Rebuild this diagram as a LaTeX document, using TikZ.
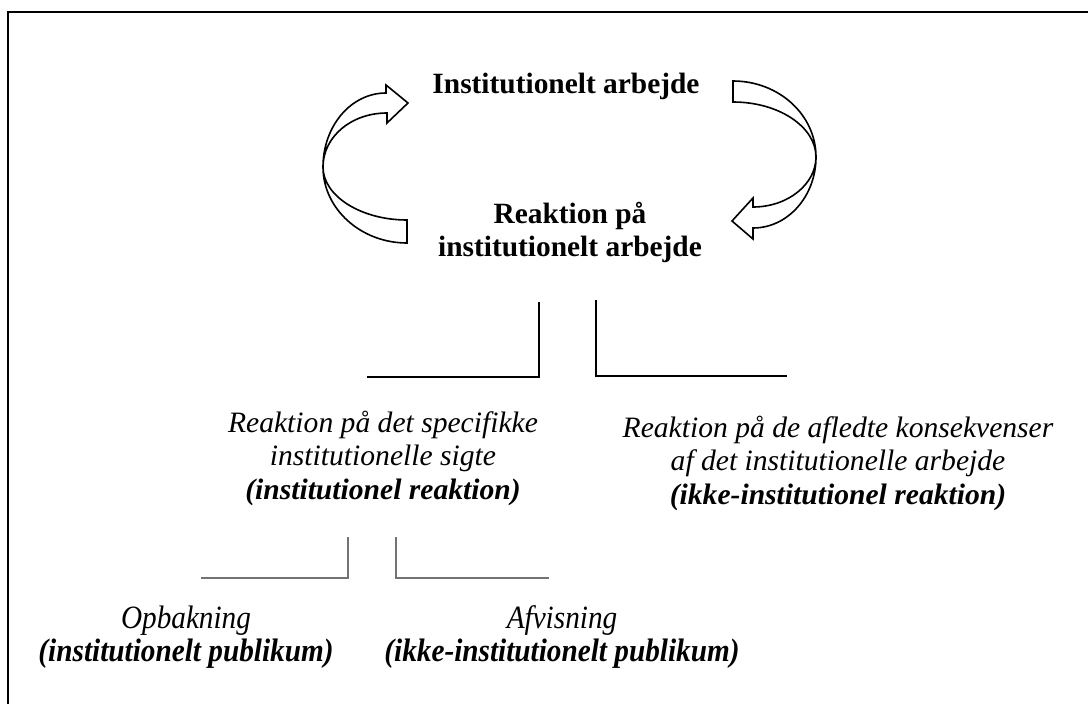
\documentclass[tikz,border=0pt]{standalone}
\usepackage{fontspec}
\setmainfont{Liberation Serif}
\newfontfamily\narrowserif[FakeStretch=0.9]{Liberation Serif}
\begin{document}
\begin{tikzpicture}[x=1pt,y=-1pt,
  boldlabel/.style={font=\fontsize{29.4}{33}\selectfont\bfseries, align=center, inner sep=0pt},
  itlabel/.style={font=\fontsize{29.6}{33.5}\selectfont\itshape, align=center, inner sep=0pt},
  narrowlabel/.style={font=\narrowserif\fontsize{32.5}{33}\selectfont\itshape, align=center, inner sep=0pt},
  blackline/.style={draw=black, line width=2pt},
  grayline/.style={draw=black!55, line width=2pt},
  ribbon/.style={draw=black, fill=white, line width=1.6pt, line join=miter}]
\useasboundingbox (0,0) rectangle (1088,704);
\fill[white] (0,0) rectangle (1088,704);
\draw[line width=2.6pt] (8,12) rectangle (1110,730);

% texts
\node[boldlabel] (top) at (566,86) {Institutionelt arbejde};
\node[boldlabel] (react) at (570,232) {Reaktion på\\institutionelt arbejde};
\node[itlabel] (spec) at (383,458) {Reaktion på det specifikke\\institutionelle sigte\\\textbf{(institutionel reaktion)}};
\node[itlabel] (afl) at (838,463) {Reaktion på de afledte konsekvenser\\af det institutionelle arbejde\\\textbf{(ikke-institutionel reaktion)}};
\node[narrowlabel] (opb) at (186,637) {Opbakning\\\textbf{(institutionelt publikum)}};
\node[narrowlabel] (afv) at (562,637) {Afvisning\\\textbf{(ikke-institutionelt publikum)}};

% left curved arrow
\draw[ribbon] (407,243) .. controls (361,243) and (323,209) .. (323,167)
  .. controls (323,126) and (351,93) .. (386,93)
  -- (386,85) -- (408,103) -- (387,123) -- (387,113)
  .. controls (351,113) and (323,137) .. (323,167)
  .. controls (323,196) and (361,220) .. (407,220) -- cycle;

% right curved arrow
\draw[ribbon] (733,81) .. controls (779,81) and (816,115) .. (816,157)
  .. controls (816,196) and (788,228) .. (753,228)
  -- (753,239) -- (732,221) -- (753,198) -- (753,207)
  .. controls (788,207) and (816,184) .. (816,157)
  .. controls (816,127) and (779,102) .. (733,102) -- cycle;

% upper connectors
\coordinate (u1) at (539,302);
\coordinate (u2) at (367,377);
\coordinate (u3) at (596,300);
\coordinate (u4) at (787,376);
\draw[blackline] (u1) |- (u2);
\draw[blackline] (u3) |- (u4);

% lower connectors
\coordinate (l1) at (348,537);
\coordinate (l2) at (201,578);
\coordinate (l3) at (396,537);
\coordinate (l4) at (549,578);
\draw[grayline] (l1) |- (l2);
\draw[grayline] (l3) |- (l4);
\end{tikzpicture}
\end{document}
